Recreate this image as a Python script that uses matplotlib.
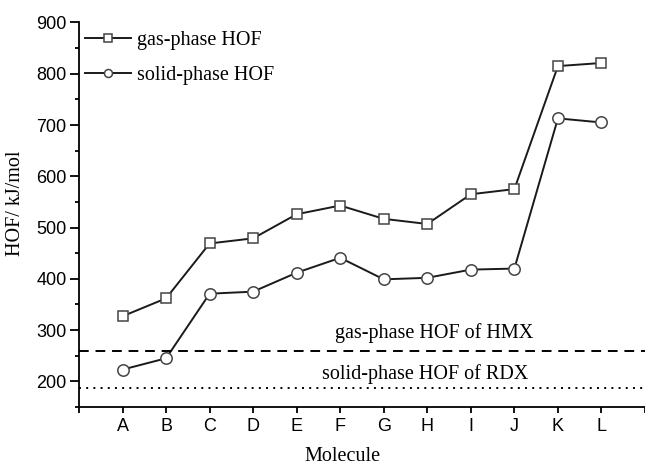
import numpy as np
import matplotlib.pyplot as plt
from matplotlib.ticker import MultipleLocator, FixedLocator

# data
molecules = ["A", "B", "C", "D", "E", "F", "G", "H", "I", "J", "K", "L"]
gas_hof = [327, 362, 469, 479, 526, 543, 517, 507, 565, 575, 815, 821]
solid_hof = [223, 245, 371, 375, 412, 441, 399, 402, 418, 420, 713, 705]
hmx_gas = 259
rdx_solid = 187

serif = ["Liberation Serif", "DejaVu Serif"]
sans = ["Liberation Sans", "DejaVu Sans"]

fig = plt.figure(figsize=(6.45, 4.65), dpi=100)
ax = fig.add_axes([79 / 645, 1 - 407 / 465, 1 - 79 / 645, (407 - 22.5) / 465])

x = np.arange(1, len(molecules) + 1)
ax.plot(x, gas_hof, "-s", color="#1a1a1a", lw=1.4, ms=7.5,
        mfc="white", mec="#444444", mew=1.1, label="gas-phase HOF")
ax.plot(x, solid_hof, "-o", color="#1a1a1a", lw=1.4, ms=8.2,
        mfc="white", mec="#444444", mew=1.1, label="solid-phase HOF")

ax.axhline(hmx_gas, color="black", ls=(0, (5, 3.5)), lw=1.4)
ax.axhline(rdx_solid, color="black", ls=(0, (1, 2.7)), lw=1.4)
ax.text(5.885, 284, "gas-phase HOF of HMX", family=serif, fontsize=14.5,
        va="baseline", ha="left")
ax.text(5.586, 204, "solid-phase HOF of RDX", family=serif, fontsize=14.5,
        va="baseline", ha="left")

ax.set_xlim(0, 13)
ax.set_ylim(150, 900)
ax.xaxis.set_major_locator(FixedLocator(np.arange(0, 14)))
ax.set_xticklabels([""] + molecules + [""])
ax.set_yticks(np.arange(200, 901, 100))
ax.yaxis.set_minor_locator(MultipleLocator(50))

for side in ("top", "right"):
    ax.spines[side].set_visible(False)
for side in ("left", "bottom"):
    ax.spines[side].set_linewidth(1.3)

ax.tick_params(axis="y", which="major", direction="out", length=6.5, width=1.3,
               labelsize=13, pad=2.5)
ax.tick_params(axis="y", which="minor", direction="out", length=3, width=1.3)
ax.tick_params(axis="x", which="major", direction="out", length=4, width=1.3,
               labelsize=13, pad=4)
for lbl in ax.get_xticklabels() + ax.get_yticklabels():
    lbl.set_family(sans)

ax.set_xlabel("Molecule", family=serif, fontsize=14.5)
ax.set_ylabel("HOF/ kJ/mol", family=serif, fontsize=14.5)
ax.xaxis.set_label_coords(0.466, -0.104)
ax.yaxis.set_label_coords(-0.095, 0.53)

leg = ax.legend(loc="upper left", frameon=False, prop={"family": serif, "size": 14.5},
                handlelength=2.3, handletextpad=0.27, labelspacing=0.8,
                borderpad=0.0, borderaxespad=0.3, markerscale=0.7,
                bbox_to_anchor=(0.0, 0.995))

fig.savefig("out.png", dpi=100)
